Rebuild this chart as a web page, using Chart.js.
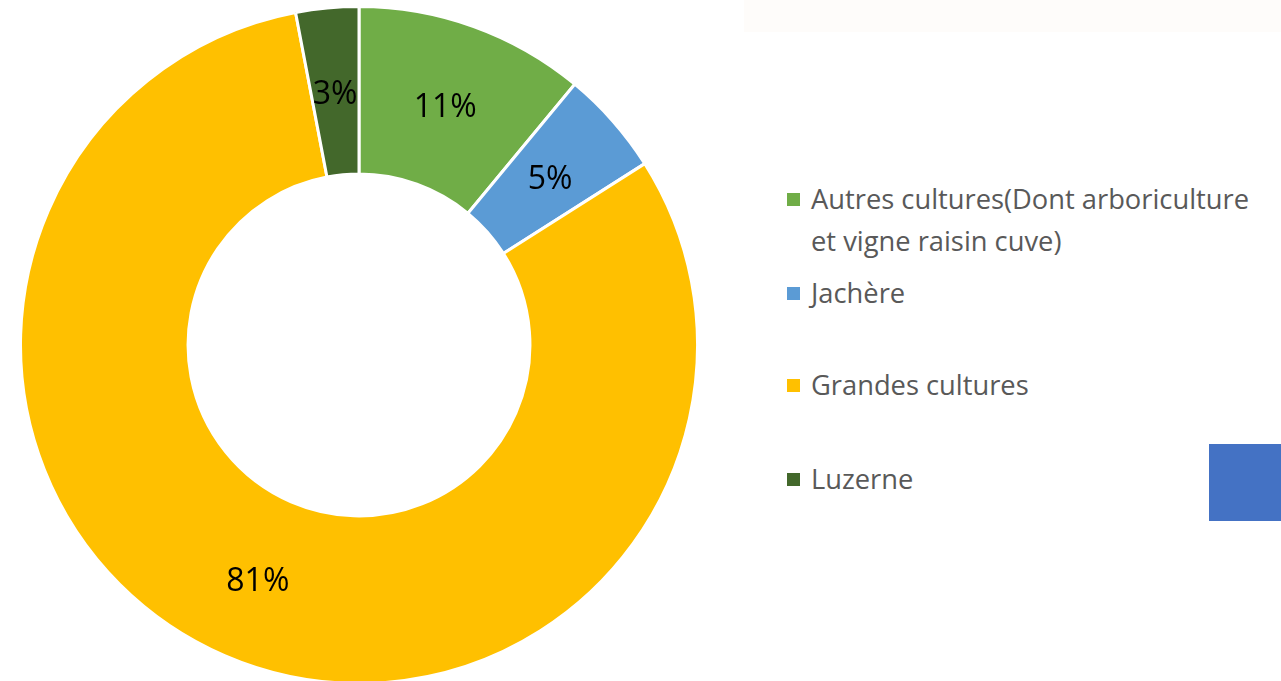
<!DOCTYPE html>
<html lang="fr">
<head>
<meta charset="UTF-8">
<title>Répartition des cultures</title>
<script src="https://cdn.jsdelivr.net/npm/chart.js"></script>
<style>
    body {
        margin: 0;
        width: 1281px;
        height: 681px;
        overflow: hidden;
        background: #ffffff;
        position: relative;
        font-family: "Open Sans", sans-serif;
    }

    .chart-box {
        position: absolute;
        left: 19px;
        top: 5px;
        width: 680px;
        height: 680px;
    }

    .top-panel {
        position: absolute;
        left: 744px;
        top: 0;
        width: 537px;
        height: 32px;
        background: #fefcfa;
    }

    .blue-box {
        position: absolute;
        left: 1209px;
        top: 444px;
        width: 72px;
        height: 77px;
        background: #4472c4;
    }

    .legend-item {
        position: absolute;
        left: 787px;
        display: flex;
        align-items: flex-start;
        color: #595959;
        font-size: 27.3px;
        line-height: 42px;
    }

    .legend-item .swatch {
        width: 13px;
        height: 13px;
        margin-top: 15px;
        margin-right: 11px;
        flex: none;
    }

    .legend-item .txt {
        width: 465px;
    }
</style>
</head>
<body>
<div class="top-panel"></div>
<div class="chart-box"><canvas id="donut" width="680" height="680"></canvas></div>
<div id="legend"></div>
<div class="blue-box"></div>

<script>
    // données du graphique
    const categories = [
        "Autres cultures(Dont arboriculture et vigne raisin cuve)",
        "Jachère",
        "Grandes cultures",
        "Luzerne"
    ];
    const parts = [11, 5, 81, 3];
    const couleurs = ["#70ad47", "#5b9bd5", "#ffc000", "#43682b"];

    // position verticale des entrées de la légende
    const legendTops = [178, 272, 364, 458];

    // légende à droite
    const legend = document.getElementById("legend");
    categories.forEach((cat, i) => {
        let item = document.createElement("div");
        item.className = "legend-item";
        item.style.top = legendTops[i] + "px";
        item.innerHTML = `<span class="swatch" style="background:${couleurs[i]}"></span><span class="txt">${cat}</span>`;
        legend.appendChild(item);
    });

    // étiquettes de pourcentage au milieu des secteurs
    const pctLabels = {
        id: "pctLabels",
        afterDatasetsDraw(chart) {
            const ctx = chart.ctx;
            const meta = chart.getDatasetMeta(0);
            ctx.save();
            ctx.font = '32px "Open Sans"';
            ctx.fillStyle = "#000000";
            ctx.textAlign = "center";
            ctx.textBaseline = "middle";
            meta.data.forEach((arc, i) => {
                const pos = arc.tooltipPosition();
                ctx.fillText(parts[i] + "%", pos.x, pos.y + 3);
            });
            ctx.restore();
        }
    };

    new Chart(document.getElementById("donut"), {
        type: "doughnut",
        data: {
            labels: categories,
            datasets: [{
                data: parts,
                backgroundColor: couleurs,
                borderColor: "#ffffff",
                borderWidth: 3
            }]
        },
        options: {
            responsive: false,
            animation: false,
            cutout: "50.5%",
            layout: { padding: 0 },
            plugins: {
                legend: { display: false },
                tooltip: { enabled: false }
            }
        },
        plugins: [pctLabels]
    });
</script>
</body>
</html>
